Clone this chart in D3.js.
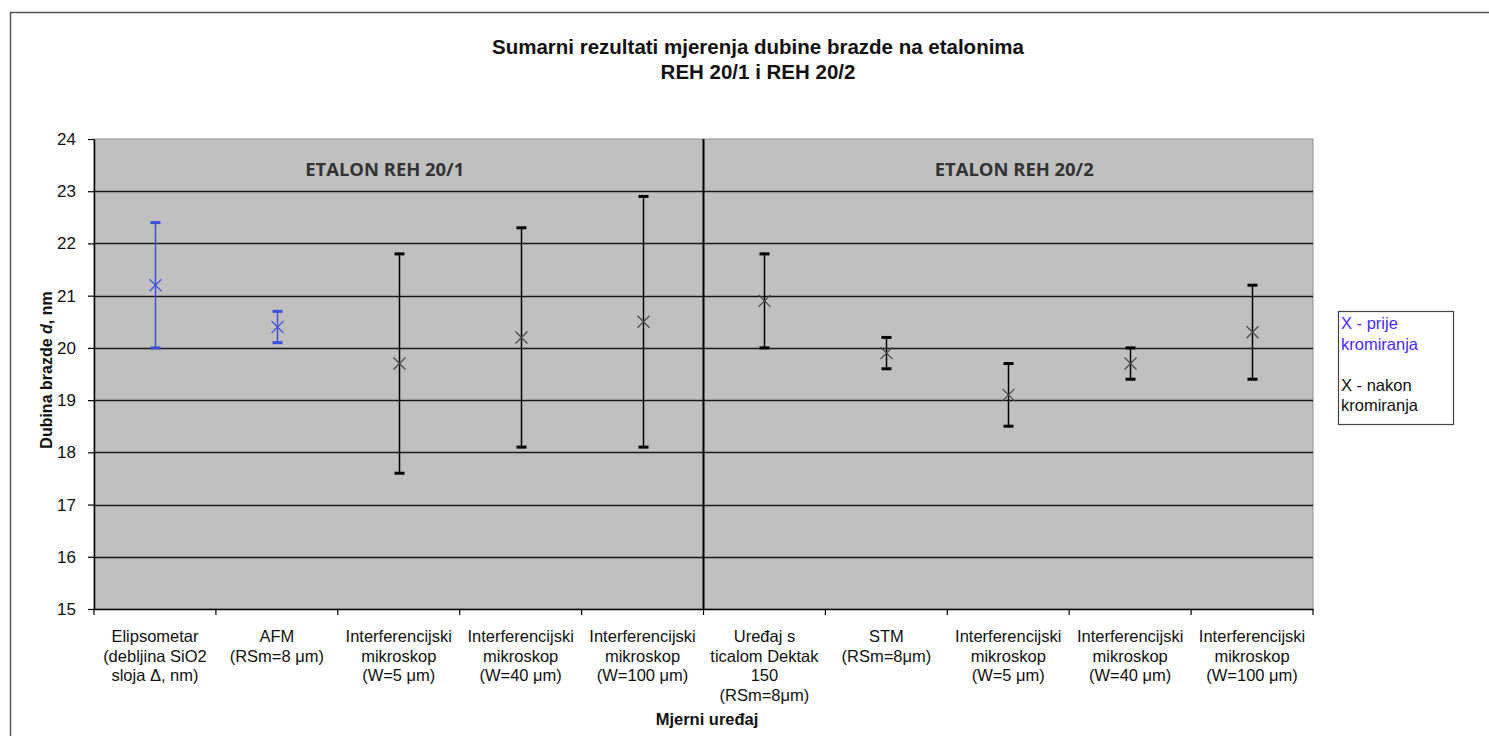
<!DOCTYPE html>
<html>
<head>
<meta charset="utf-8">
<script src="https://cdn.jsdelivr.net/npm/d3@7/dist/d3.min.js"></script>
<style>
html,body{margin:0;padding:0;background:#fff;}
svg{display:block;}
</style>
</head>
<body>
<svg id="chart" width="1489" height="736"></svg>
<script>
const categories = [
  ["Elipsometar","(debljina SiO2","sloja Δ, nm)"],
  ["AFM","(RSm=8 μm)"],
  ["Interferencijski","mikroskop","(W=5 μm)"],
  ["Interferencijski","mikroskop","(W=40 μm)"],
  ["Interferencijski","mikroskop","(W=100 μm)"],
  ["Uređaj s","ticalom Dektak","150","(RSm=8μm)"],
  ["STM","(RSm=8μm)"],
  ["Interferencijski","mikroskop","(W=5 μm)"],
  ["Interferencijski","mikroskop","(W=40 μm)"],
  ["Interferencijski","mikroskop","(W=100 μm)"]
];
const values = [21.2, 20.4, 19.7, 20.2, 20.5, 20.9, 19.9, 19.1, 19.7, 20.3];
const lows   = [20.0, 20.1, 17.6, 18.1, 18.1, 20.0, 19.6, 18.5, 19.4, 19.4];
const highs  = [22.4, 20.7, 21.8, 22.3, 22.9, 21.8, 20.2, 19.7, 20.0, 21.2];
const phase  = ["prije","prije","nakon","nakon","nakon","nakon","nakon","nakon","nakon","nakon"];
const yTicks = [15,16,17,18,19,20,21,22,23,24];
const groups = [
  {label:"ETALON REH 20/1", first:0, last:4},
  {label:"ETALON REH 20/2", first:5, last:9}
];
const legendLines = [
  {text:"X - prije", ph:"prije"},
  {text:"kromiranja", ph:"prije"},
  {text:"", ph:""},
  {text:"X - nakon", ph:"nakon"},
  {text:"kromiranja", ph:"nakon"}
];

const colors = {prije:"#3f4fd8", nakon:"#000"};
const markerColors = {prije:"#4a58d8", nakon:"#4a4a4a"};
const legendColors = {prije:"#4a2cff", nakon:"#111"};
const FONT = "Liberation Sans, Arial, sans-serif";

const svg = d3.select("#chart");
const L = 94, R = 1313, T = 139, B = 609;

// outer chart frame
svg.append("path").attr("d","M10.5,740 V12.5 H1495").attr("fill","none").attr("stroke","#555").attr("stroke-width",1.5);

const x = d3.scaleBand().domain(d3.range(categories.length)).range([L,R]).paddingInner(0).paddingOuter(0);
const y = d3.scaleLinear().domain([15,24]).range([B,T]);

// plot background
svg.append("rect").attr("x",L).attr("y",T).attr("width",R-L).attr("height",B-T).attr("fill","#c0c0c0").attr("stroke","#909090").attr("stroke-width",1);

// gridlines
svg.append("g").selectAll("line").data(yTicks.filter(v=>v>15 && v<24)).join("line")
  .attr("x1",L).attr("x2",R).attr("y1",d=>Math.round(y(d))+0.5).attr("y2",d=>Math.round(y(d))+0.5)
  .attr("stroke","#1a1a1a").attr("stroke-width",1.3);

// y axis
const yAxis = svg.append("g").attr("transform",`translate(${L},0)`)
  .call(d3.axisLeft(y).tickValues(yTicks).tickSize(6).tickSizeOuter(0).tickPadding(12));
yAxis.select(".domain").attr("stroke","#000").attr("stroke-width",1.5);
yAxis.selectAll(".tick line").attr("stroke","#000").attr("stroke-width",1.2);
yAxis.selectAll("text").attr("font-family",FONT).attr("font-size",17).attr("fill","#111");

// x axis
const xAxis = svg.append("g").attr("transform",`translate(0,${B})`)
  .call(d3.axisBottom(x).tickValues([]).tickSizeOuter(0));
xAxis.select(".domain").attr("stroke","#000").attr("stroke-width",1.5);
const bounds = d3.range(categories.length+1).map(i => i<categories.length ? x(i) : x(categories.length-1)+x.bandwidth());
svg.append("g").selectAll("line").data(bounds).join("line")
  .attr("x1",d=>d).attr("x2",d=>d).attr("y1",B).attr("y2",B+6).attr("stroke","#000").attr("stroke-width",1.2);

// category labels
const catG = svg.append("g").attr("font-family",FONT).attr("font-size",16.5).attr("fill","#111").attr("text-anchor","middle");
categories.forEach((lines,i)=>{
  const t = catG.append("text").attr("x",x(i)+x.bandwidth()/2).attr("y",642);
  lines.forEach((ln,j)=> t.append("tspan").attr("x",x(i)+x.bandwidth()/2).attr("dy", j===0?0:19.7).text(ln));
});

// divider between groups
svg.append("line").attr("x1",x(5)).attr("x2",x(5)).attr("y1",T).attr("y2",B).attr("stroke","#000").attr("stroke-width",2);

// group labels (text boxes slightly off-centre, as in the original)
const groupShift = [-14, 6];
groups.forEach((g,k)=>{
  const cx = (x(g.first) + x(g.last)+x.bandwidth())/2 + groupShift[k];
  svg.append("text").attr("x",cx).attr("y",176).attr("text-anchor","middle")
    .attr("font-family","Open Sans, sans-serif").attr("font-weight","bold").attr("font-size",17).attr("fill","#333")
    .attr("textLength",159).attr("lengthAdjust","spacingAndGlyphs")
    .text(g.label);
});

// error bars
const eg = svg.append("g");
values.forEach((v,i)=>{
  const cx = Math.round(x(i)+x.bandwidth()/2)+0.5;
  const c = colors[phase[i]];
  eg.append("line").attr("x1",cx).attr("x2",cx).attr("y1",y(highs[i])).attr("y2",y(lows[i])).attr("stroke",c).attr("stroke-width",1.5);
  [highs[i],lows[i]].forEach(h=>{
    eg.append("line").attr("x1",cx-5).attr("x2",cx+5).attr("y1",y(h)).attr("y2",y(h)).attr("stroke",c).attr("stroke-width",3);
  });
  const my = y(v), s = 6;
  eg.append("path").attr("d",`M${cx-s},${my-s}L${cx+s},${my+s}M${cx-s},${my+s}L${cx+s},${my-s}`)
    .attr("stroke",markerColors[phase[i]]).attr("stroke-width",1.3).attr("fill","none");
});

// title
const title = svg.append("text").attr("x",758).attr("y",54).attr("text-anchor","middle")
  .attr("font-family",FONT).attr("font-weight","bold").attr("font-size",20.5).attr("fill","#111");
title.append("tspan").attr("x",758).text("Sumarni rezultati mjerenja dubine brazde na etalonima");
title.append("tspan").attr("x",758).attr("dy",25).text("REH 20/1 i REH 20/2");

// y title
const yt = svg.append("text").attr("transform","translate(52,370) rotate(-90)").attr("text-anchor","middle")
  .attr("font-family",FONT).attr("font-weight","bold").attr("font-size",16).attr("fill","#111");
yt.append("tspan").text("Dubina brazde ");
yt.append("tspan").attr("font-style","italic").text("d");
yt.append("tspan").text(", nm");

// x title
svg.append("text").attr("x",707).attr("y",725).attr("text-anchor","middle")
  .attr("font-family",FONT).attr("font-weight","bold").attr("font-size",16.5).attr("fill","#111")
  .text("Mjerni uređaj");

// legend
svg.append("rect").attr("x",1338.5).attr("y",311.5).attr("width",115).attr("height",113).attr("fill","#fff").attr("stroke","#444").attr("stroke-width",1.2);
const lg = svg.append("g").attr("font-family",FONT).attr("font-size",16.5);
legendLines.forEach((d,i)=>{
  if(!d.text) return;
  lg.append("text").attr("x",1341).attr("y",329 + i*20.5).attr("fill",legendColors[d.ph]).text(d.text);
});
</script>
</body>
</html>
